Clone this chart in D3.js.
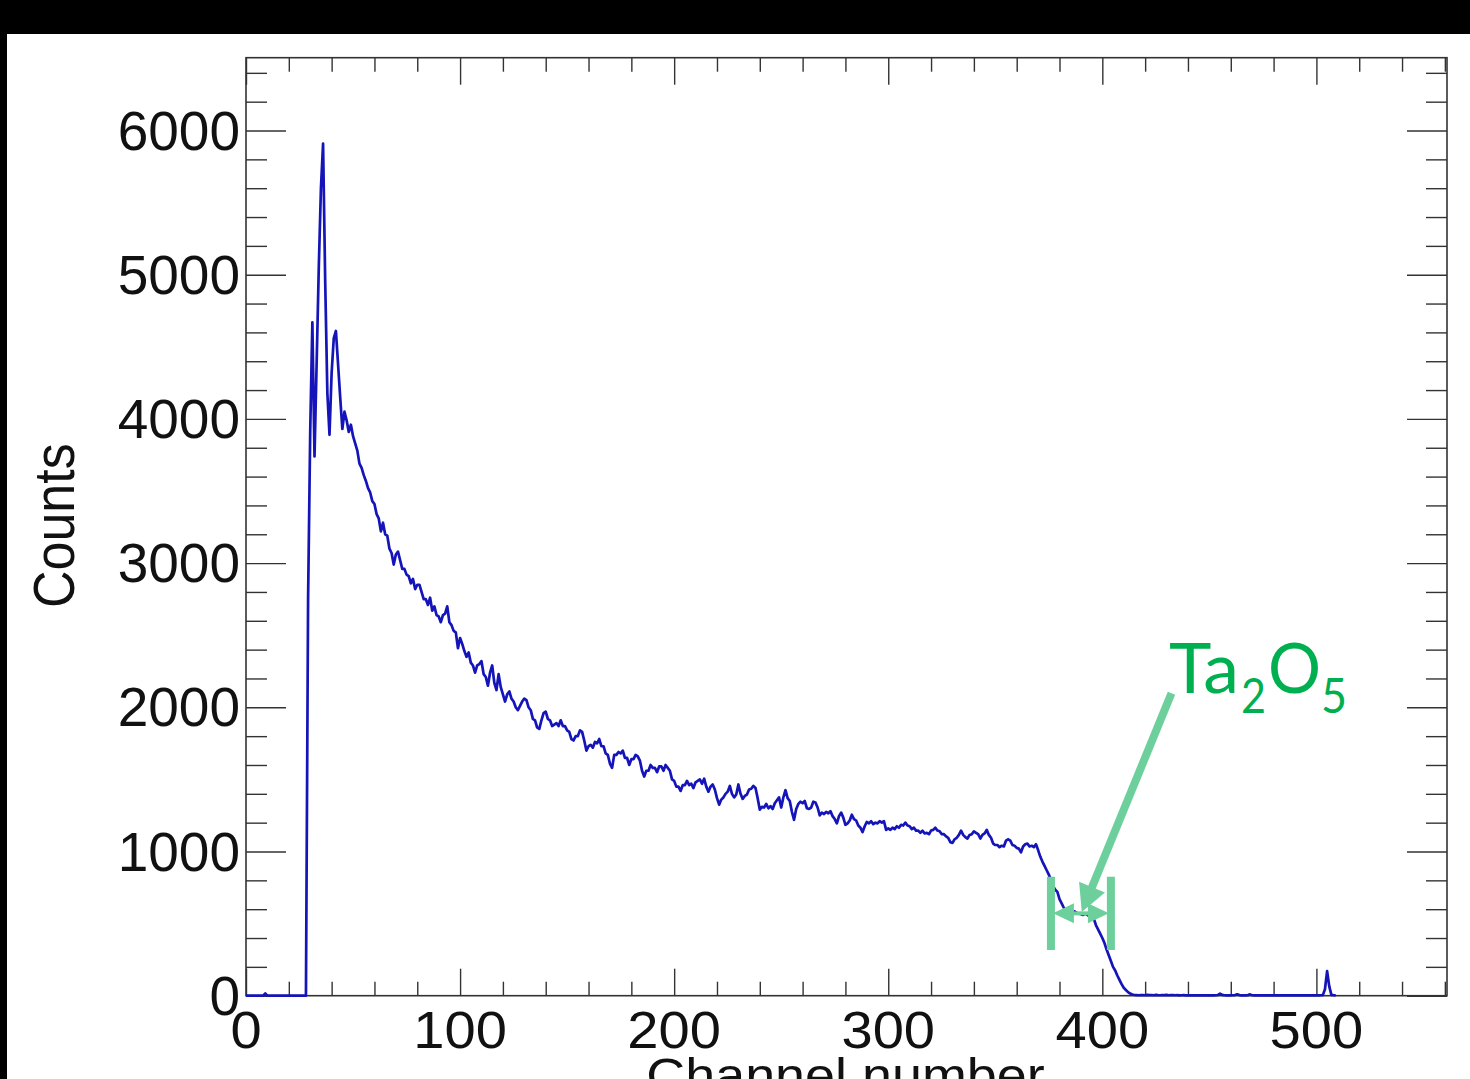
<!DOCTYPE html>
<html>
<head>
<meta charset="utf-8">
<script src="https://cdn.jsdelivr.net/npm/d3@7"></script>
<style>
  html, body { margin: 0; padding: 0; background: #fff; overflow: hidden; }
  svg { display: block; }
</style>
</head>
<body>
<svg id="chart" width="1470" height="1079"></svg>
<script>
// ---------------- DATA ----------------
// counts per channel, channel = array index (0 .. 509)
const counts = [
  0,0,0,0,0,0,0,0,0,15, 0,0,0,0,0,0,0,0,0,0,
  0,0,0,0,0,0,0,0,0,2750,
  3920,4670,3740,4390,5050,5600,5910,4950,4180,3890,
  4320,4560,4610,4380,4150,3930,4050,3990,3910,3960,
  3880,3830,3780,3690,3660,3610,3570,3520,3490,3430,
  3410,3340,3310,3220,3280,3200,3190,3100,3070,2990,
  3060,3080,3020,2960,2960,2920,2910,2860,2890,2820,
  2850,2850,2800,2750,2750,2710,2760,2670,2700,2640,
  2630,2590,2640,2650,2700,2590,2570,2530,2520,2410,
  2480,2440,2390,2350,2380,2310,2290,2240,2290,2300,
  2320,2230,2210,2150,2240,2290,2170,2120,2230,2140,
  2090,2040,2090,2110,2060,2040,2000,1980,2010,2040,
  2060,2050,2000,1980,1920,1910,1860,1850,1910,1960,
  1970,1920,1910,1870,1880,1890,1870,1910,1870,1870,
  1840,1830,1780,1770,1800,1800,1840,1830,1770,1700,
  1730,1740,1720,1760,1750,1780,1730,1730,1680,1670,
  1610,1580,1670,1670,1690,1680,1700,1650,1650,1600,
  1640,1640,1670,1660,1630,1560,1520,1560,1560,1600,
  1580,1580,1550,1590,1590,1560,1600,1580,1560,1500,
  1490,1450,1450,1420,1460,1460,1490,1460,1470,1440,
  1480,1490,1500,1470,1505,1450,1415,1450,1465,1430,
  1370,1325,1360,1375,1400,1415,1455,1400,1375,1395,
  1465,1400,1365,1385,1395,1430,1435,1455,1440,1370,
  1290,1310,1305,1330,1300,1315,1295,1335,1355,1375,
  1305,1375,1425,1370,1350,1275,1220,1295,1330,1345,
  1335,1350,1300,1295,1305,1345,1340,1305,1250,1270,
  1260,1275,1265,1280,1245,1225,1195,1245,1270,1235,
  1185,1195,1215,1255,1225,1215,1180,1165,1135,1175,
  1205,1195,1210,1190,1200,1195,1210,1200,1210,1150,
  1160,1150,1165,1155,1175,1165,1185,1180,1200,1180,
  1175,1155,1165,1145,1145,1130,1145,1125,1130,1120,
  1145,1150,1165,1145,1140,1120,1120,1105,1095,1065,
  1060,1085,1095,1115,1145,1115,1100,1090,1115,1120,
  1140,1130,1120,1090,1115,1125,1150,1115,1095,1055,
  1045,1045,1030,1040,1035,1075,1085,1075,1045,1040,
  1025,1020,995,1035,1050,1055,1035,1040,1030,1050,
  1010,965,930,900,870,840,800,760,735,720,
  670,640,610,590,570,550,565,585,575,570,
  565,560,570,560,550,540,535,490,460,430,
  400,365,320,280,240,200,175,140,110,80,
  55,40,25,15,8,5,4,3,5,4,
  3,6,4,5,3,6,4,3,5,4,
  6,3,4,5,3,4,2,3,4,2,
  3,2,3,2,3,2,2,3,2,3,
  2,3,2,3,5,14,6,3,2,3,
  2,3,4,10,4,2,3,2,4,9,
  3,2,2,3,2,3,2,2,3,2,
  3,2,2,3,2,3,2,2,3,2,
  3,2,2,3,2,3,2,2,3,2,
  2,2,3,4,45,170,65,6,3,2
];

const xMajorTicks = [0, 100, 200, 300, 400, 500];
const xTickLabels = ["0", "100", "200", "300", "400", "500"];
const yMajorTicks = [0, 1000, 2000, 3000, 4000, 5000, 6000];
const yTickLabels = ["0", "1000", "2000", "3000", "4000", "5000", "6000"];
const xTitle = "Channel number";
const yTitle = "Counts";

// annotation (in data units): bracket channels, arrow, label
const bracketChannels = [376, 404];
const bracketCounts = [317, 825];
const bracketArrowCount = 571;
const arrowTip = [390.4, 580];
const arrowTail = [432.3, 2097];
const labelPos = [431.2, 2097];

// ---------------- LAYOUT ----------------
const L = 246, R = 1447, T = 57.7, B = 995.7;
const svg = d3.select("#chart");

// background + black photo borders
svg.append("rect").attr("x", 0).attr("y", 0).attr("width", 1470).attr("height", 1079).attr("fill", "#fff");
svg.append("rect").attr("x", 0).attr("y", 0).attr("width", 1470).attr("height", 34).attr("fill", "#000");
svg.append("rect").attr("x", 0).attr("y", 0).attr("width", 7).attr("height", 1079).attr("fill", "#000");

const x = d3.scaleLinear().domain([0, 561]).range([L, R]);
const y = d3.scaleLinear().domain([0, 6505]).range([B, T]);

const xMinor = d3.range(0, 561, 20).filter(v => !xMajorTicks.includes(v));
const yMinor = d3.range(0, 6505, 200).filter(v => !yMajorTicks.includes(v));

function styleAxis(g) {
  g.select(".domain").remove();
  g.selectAll(".tick line").attr("stroke", "#333").attr("stroke-width", 1.4);
  g.selectAll(".tick text").remove();
}

// bottom
svg.append("g").attr("transform", `translate(0,${B})`)
  .call(d3.axisBottom(x).tickValues(xMajorTicks).tickSize(-27).tickFormat("")).call(styleAxis);
svg.append("g").attr("transform", `translate(0,${B})`)
  .call(d3.axisBottom(x).tickValues(xMinor).tickSize(-14).tickFormat("")).call(styleAxis);
// top
svg.append("g").attr("transform", `translate(0,${T})`)
  .call(d3.axisTop(x).tickValues(xMajorTicks).tickSize(-27).tickFormat("")).call(styleAxis);
svg.append("g").attr("transform", `translate(0,${T})`)
  .call(d3.axisTop(x).tickValues(xMinor).tickSize(-14).tickFormat("")).call(styleAxis);
// left
svg.append("g").attr("transform", `translate(${L},0)`)
  .call(d3.axisLeft(y).tickValues(yMajorTicks).tickSize(-40).tickFormat("")).call(styleAxis);
svg.append("g").attr("transform", `translate(${L},0)`)
  .call(d3.axisLeft(y).tickValues(yMinor).tickSize(-21).tickFormat("")).call(styleAxis);
// right
svg.append("g").attr("transform", `translate(${R},0)`)
  .call(d3.axisRight(y).tickValues(yMajorTicks).tickSize(-40).tickFormat("")).call(styleAxis);
svg.append("g").attr("transform", `translate(${R},0)`)
  .call(d3.axisRight(y).tickValues(yMinor).tickSize(-21).tickFormat("")).call(styleAxis);

// frame
svg.append("rect").attr("x", L).attr("y", T).attr("width", R - L).attr("height", B - T)
  .attr("fill", "none").attr("stroke", "#333").attr("stroke-width", 1.6);

// tick labels
const FONT = "'Liberation Sans', Arial, Helvetica, sans-serif";
svg.append("g").selectAll("text").data(yMajorTicks).join("text")
  .attr("x", 240).attr("y", d => y(d))
  .attr("text-anchor", "end").attr("dominant-baseline", "central")
  .attr("font-family", FONT).attr("font-size", 55).attr("fill", "#111")
  .text((d, i) => yTickLabels[i]);

svg.append("g").selectAll("text").data(xMajorTicks).join("text")
  .attr("transform", d => `translate(${x(d)},1048) scale(1.1,1)`)
  .attr("text-anchor", "middle")
  .attr("font-family", FONT).attr("font-size", 51).attr("fill", "#111")
  .text((d, i) => xTickLabels[i]);

// axis titles
svg.append("text")
  .attr("transform", `translate(${(L + R) / 2 - 1},1092) scale(1.1,1)`)
  .attr("text-anchor", "middle")
  .attr("font-family", FONT).attr("font-size", 49).attr("fill", "#111")
  .text(xTitle);
svg.append("text")
  .attr("transform", `translate(74,${(T + B) / 2 - 1}) scale(1.1,1) rotate(-90)`)
  .attr("text-anchor", "middle")
  .attr("font-family", FONT).attr("font-size", 52).attr("fill", "#111")
  .text(yTitle);

// histogram line
const line = d3.line().x((d, i) => x(i)).y(d => y(d));
svg.append("path").datum(counts)
  .attr("d", line).attr("fill", "none")
  .attr("stroke", "#1414b8").attr("stroke-width", 2.7).attr("stroke-linejoin", "round");

// ---------------- ANNOTATION ----------------
const AG = "#6dd09c";
const ann = svg.append("g");
// bracket bars
bracketChannels.forEach(c => {
  ann.append("line")
    .attr("x1", x(c)).attr("x2", x(c))
    .attr("y1", y(bracketCounts[1])).attr("y2", y(bracketCounts[0]))
    .attr("stroke", AG).attr("stroke-width", 8);
});
// double arrow between bars
const bx0 = x(bracketChannels[0]) + 2, bx1 = x(bracketChannels[1]) - 2, by = y(bracketArrowCount);
ann.append("line").attr("x1", bx0 + 16).attr("x2", bx1 - 16).attr("y1", by).attr("y2", by)
  .attr("stroke", AG).attr("stroke-width", 4);
ann.append("path").attr("d", `M${bx0},${by} L${bx0 + 21},${by - 10} L${bx0 + 21},${by + 10} Z`).attr("fill", AG);
ann.append("path").attr("d", `M${bx1},${by} L${bx1 - 21},${by - 10} L${bx1 - 21},${by + 10} Z`).attr("fill", AG);

// pointing arrow
const tx = x(arrowTip[0]), ty = y(arrowTip[1]);
const sx = x(arrowTail[0]), sy = y(arrowTail[1]);
const len = Math.hypot(tx - sx, ty - sy);
const ux = (tx - sx) / len, uy = (ty - sy) / len;
const px = -uy, py = ux;
const headLen = 27, headHalf = 14;
const hbx = tx - ux * headLen, hby = ty - uy * headLen;
ann.append("line").attr("x1", sx).attr("y1", sy).attr("x2", hbx + ux * 2).attr("y2", hby + uy * 2)
  .attr("stroke", AG).attr("stroke-width", 8);
ann.append("path")
  .attr("d", `M${tx},${ty} L${hbx + px * headHalf},${hby + py * headHalf} L${hbx - px * headHalf},${hby - py * headHalf} Z`)
  .attr("fill", AG);

// label Ta2O5
const LF = "Lato, 'Open Sans', sans-serif";
const lx = x(labelPos[0]), ly = y(labelPos[1]);
const TG = "#00b050";
ann.append("text").attr("x", lx).attr("y", ly).attr("font-family", LF).attr("font-size", 69)
  .attr("fill", TG).attr("textLength", 70).attr("lengthAdjust", "spacingAndGlyphs").text("Ta");
ann.append("text").attr("x", lx + 72).attr("y", ly + 20).attr("font-family", LF).attr("font-size", 49)
  .attr("fill", TG).attr("textLength", 25).attr("lengthAdjust", "spacingAndGlyphs").text("2");
ann.append("text").attr("x", lx + 99).attr("y", ly).attr("font-family", LF).attr("font-size", 69)
  .attr("fill", TG).attr("textLength", 53).attr("lengthAdjust", "spacingAndGlyphs").text("O");
ann.append("text").attr("x", lx + 152).attr("y", ly + 20).attr("font-family", LF).attr("font-size", 49)
  .attr("fill", TG).attr("textLength", 26).attr("lengthAdjust", "spacingAndGlyphs").text("5");
</script>
</body>
</html>
